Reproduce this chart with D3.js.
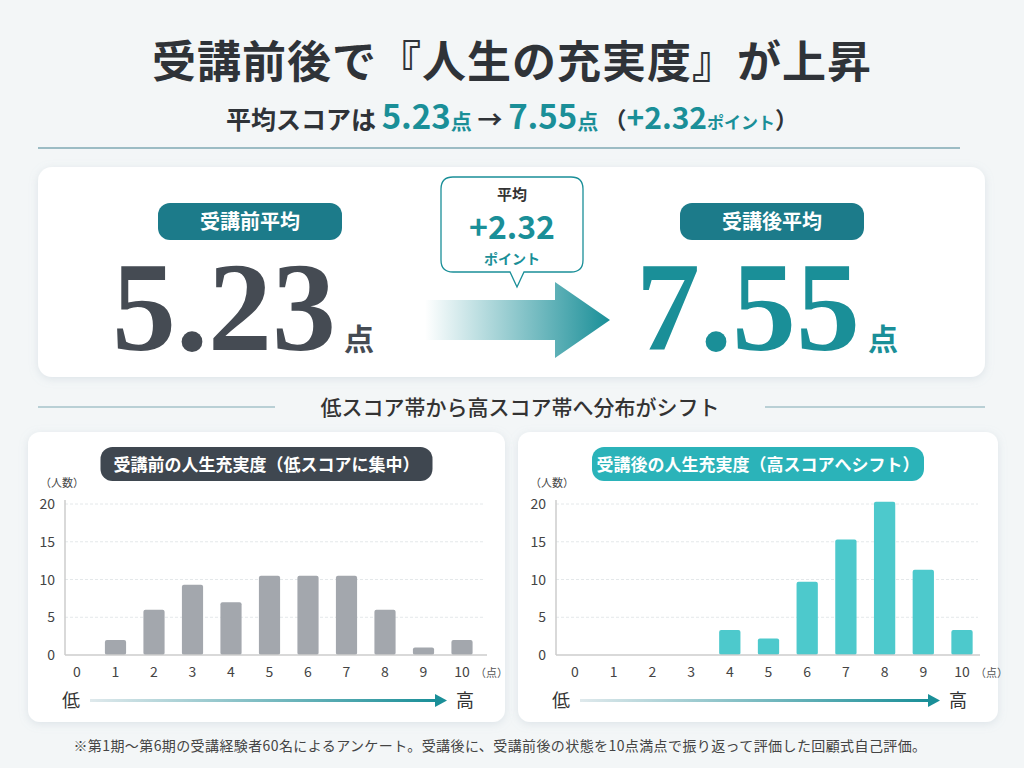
<!DOCTYPE html>
<html><head><meta charset="utf-8">
<script src="https://cdn.jsdelivr.net/npm/d3@7"></script>
<style>
body{margin:0;background:#f3f6f7;}
svg{display:block;font-family:"Noto Sans CJK JP","Noto Sans",sans-serif;}
</style></head>
<body><svg id="c" width="1024" height="768"></svg>
<script>
var scores = ["0","1","2","3","4","5","6","7","8","9","10"];
var beforeCounts = [0, 2, 6, 9.3, 7, 10.5, 10.5, 10.5, 6, 1, 2];
var afterCounts = [0, 0, 0, 0, 3.3, 2.2, 9.7, 15.3, 20.3, 11.3, 3.3];
var yTicks = [0, 5, 10, 15, 20];
var beforeAvg = "5.23", afterAvg = "7.55", diff = "+2.32";

var svg = d3.select("#c");
var teal = "#1a8f98", dark = "#454b53";
var defs = svg.append("defs");
var f = defs.append("filter").attr("id", "sh").attr("x", "-5%").attr("y", "-5%").attr("width", "110%").attr("height", "115%");
f.append("feDropShadow").attr("dx", 0).attr("dy", 2).attr("stdDeviation", 4).attr("flood-color", "#9ab").attr("flood-opacity", 0.25);
var g1 = defs.append("linearGradient").attr("id", "ag");
g1.append("stop").attr("offset", "0%").attr("stop-color", "#1a8f98").attr("stop-opacity", 0);
g1.append("stop").attr("offset", "100%").attr("stop-color", "#1a8f98");
var g2 = defs.append("linearGradient").attr("id", "lg");
g2.append("stop").attr("offset", "0%").attr("stop-color", "#dfe9ec");
g2.append("stop").attr("offset", "100%").attr("stop-color", "#1a8f98");

// title
svg.append("text").attr("x", 512).attr("y", 78).attr("text-anchor", "middle")
  .attr("font-size", 44).attr("font-weight", 700).attr("letter-spacing", 1).attr("fill", "#2f3338").text("受講前後で『人生の充実度』が上昇");
var sub = svg.append("text").attr("x", 512).attr("y", 129).attr("text-anchor", "middle")
  .attr("font-size", 25).attr("font-weight", 700).attr("fill", "#2f3338");
sub.append("tspan").text("平均スコアは  ");
sub.append("tspan").attr("fill", teal).attr("font-size", 33).text(beforeAvg);
sub.append("tspan").attr("fill", teal).attr("font-size", 21).text("点");
sub.append("tspan").text("  →  ");
sub.append("tspan").attr("fill", teal).attr("font-size", 33).text(afterAvg);
sub.append("tspan").attr("fill", teal).attr("font-size", 21).text("点");
sub.append("tspan").attr("font-size", 23).text(" （");
sub.append("tspan").attr("fill", teal).attr("font-size", 30).text(diff);
sub.append("tspan").attr("fill", teal).attr("font-size", 17).text("ポイント");
sub.append("tspan").attr("font-size", 23).text("）");
svg.append("line").attr("x1", 38).attr("x2", 960).attr("y1", 148).attr("y2", 148).attr("stroke", "#7fa9b3").attr("stroke-width", 1.5);

// summary card
svg.append("rect").attr("x", 38).attr("y", 167).attr("width", 947).attr("height", 210).attr("rx", 14)
  .attr("fill", "#fff").attr("filter", "url(#sh)");
function pill(cx, label) {
  svg.append("rect").attr("x", cx - 92).attr("y", 203).attr("width", 184).attr("height", 37).attr("rx", 12).attr("fill", "#1c7b8a");
  svg.append("text").attr("x", cx).attr("y", 229).attr("text-anchor", "middle").attr("font-size", 20)
    .attr("font-weight", 700).attr("fill", "#fff").text(label);
}
pill(250, "受講前平均");
pill(772, "受講後平均");
function bigNum(x, val, col) {
  var t = svg.append("text").attr("x", x).attr("y", 350).attr("fill", col);
  t.append("tspan").attr("font-family", "'Liberation Serif',serif").attr("font-weight", 700)
    .attr("font-size", 128).attr("letter-spacing", 0).text(val);
  t.append("tspan").attr("dx", 8).attr("font-size", 30).attr("font-weight", 700).text("点");
}
bigNum(112, beforeAvg, dark);
bigNum(636, afterAvg, teal);

// arrow
svg.append("path").attr("d", "M425,300 L555,300 L555,282 L610,320 L555,358 L555,340 L425,340 Z").attr("fill", "url(#ag)");
// callout
svg.append("path").attr("d", "M453,177 L571,177 Q583,177 583,189 L583,260 Q583,272 571,272 L524,272 L517,287 L510,272 L453,272 Q441,272 441,260 L441,189 Q441,177 453,177 Z")
  .attr("fill", "#fff").attr("stroke", teal).attr("stroke-width", 1.3);
svg.append("text").attr("x", 512).attr("y", 200).attr("text-anchor", "middle").attr("font-size", 15).attr("font-weight", 700).attr("fill", "#333").text("平均");
svg.append("text").attr("x", 512).attr("y", 239).attr("text-anchor", "middle").attr("font-size", 32).attr("font-weight", 700).attr("fill", teal).text(diff);
svg.append("text").attr("x", 512).attr("y", 264).attr("text-anchor", "middle").attr("font-size", 14).attr("font-weight", 700).attr("fill", teal).text("ポイント");

// section label
svg.append("text").attr("x", 520).attr("y", 415).attr("text-anchor", "middle").attr("font-size", 21).attr("font-weight", 500).attr("fill", "#333").text("低スコア帯から高スコア帯へ分布がシフト");
svg.append("line").attr("x1", 38).attr("x2", 275).attr("y1", 407).attr("y2", 407).attr("stroke", "#7fa9b3");
svg.append("line").attr("x1", 765).attr("x2", 985).attr("y1", 407).attr("y2", 407).attr("stroke", "#7fa9b3");

function panel(px, w, title, pillCol, data, barCol, x0, x10, axisX) {
  svg.append("rect").attr("x", px).attr("y", 432).attr("width", w).attr("height", 290).attr("rx", 12)
    .attr("fill", "#fff").attr("filter", "url(#sh)");
  var cx = px + w / 2;
  svg.append("rect").attr("x", cx - 166).attr("y", 447).attr("width", 332).attr("height", 34).attr("rx", 12).attr("fill", pillCol);
  svg.append("text").attr("x", cx).attr("y", 471).attr("text-anchor", "middle").attr("font-size", 17)
    .attr("font-weight", 700).attr("fill", "#fff").text(title);
  svg.append("text").attr("x", px + 12).attr("y", 487).attr("font-size", 11).attr("fill", "#444").text("（人数）");
  var step = (x10 - x0) / 10;
  var x = d3.scaleBand().domain(scores).range([x0 - step / 2, x10 + step / 2]);
  var bw = step * 0.55;
  var y = d3.scaleLinear().domain([0, 20]).range([655, 504]);
  var g = svg.append("g");
  g.selectAll(".gl").data(yTicks.slice(1)).enter().append("line")
    .attr("x1", axisX).attr("x2", px + w - 20).attr("y1", y).attr("y2", y)
    .attr("stroke", "#e4e8ea").attr("stroke-dasharray", "3,2");
  g.selectAll(".yt").data(yTicks).enter().append("text")
    .attr("x", axisX - 10).attr("y", function(d) { return y(d) + 5; }).attr("text-anchor", "end")
    .attr("font-size", 14).attr("fill", "#444").text(function(d) { return d; });
  g.selectAll(".bar").data(data).enter().append("rect")
    .attr("x", function(d, i) { return x(scores[i]) + x.bandwidth() / 2 - bw / 2; }).attr("width", bw)
    .attr("y", function(d) { return y(d); }).attr("height", function(d) { return 655 - y(d); })
    .attr("rx", 2).attr("fill", barCol);
  g.append("line").attr("x1", axisX).attr("x2", axisX).attr("y1", 500).attr("y2", 655).attr("stroke", "#ccc").attr("stroke-width", 1.5);
  g.append("line").attr("x1", axisX).attr("x2", px + w - 18).attr("y1", 655).attr("y2", 655).attr("stroke", "#ccc").attr("stroke-width", 1.5);
  g.selectAll(".xt").data(scores).enter().append("text")
    .attr("x", function(d) { return x(d) + x.bandwidth() / 2; }).attr("y", 677).attr("text-anchor", "middle")
    .attr("font-size", 14).attr("fill", "#444").text(function(d) { return d; });
  svg.append("text").attr("x", x10 + 13).attr("y", 677).attr("font-size", 11).attr("fill", "#555").text("（点）");
  svg.append("text").attr("x", px + 43).attr("y", 707).attr("text-anchor", "middle").attr("font-size", 18).attr("fill", "#333").text("低");
  svg.append("text").attr("x", px + w - 40).attr("y", 707).attr("text-anchor", "middle").attr("font-size", 18).attr("fill", "#333").text("高");
  svg.append("rect").attr("x", px + 62).attr("y", 699).attr("width", w - 132).attr("height", 3).attr("fill", "url(#lg)");
  svg.append("path").attr("d", "M" + (px + w - 70) + ",694 L" + (px + w - 58) + ",700.5 L" + (px + w - 70) + ",707 Z").attr("fill", teal);
}
panel(28, 477, "受講前の人生充実度（低スコアに集中）", "#3f4750", beforeCounts, "#a3a7ad", 77, 462, 65);
panel(518, 480, "受講後の人生充実度（高スコアへシフト）", "#2bb3b9", afterCounts, "#4dc9cc", 575, 962, 556);

svg.append("text").attr("x", 500).attr("y", 751).attr("text-anchor", "middle").attr("font-size", 14).attr("letter-spacing", 0.4).attr("fill", "#444")
  .text("※第1期〜第6期の受講経験者60名によるアンケート。受講後に、受講前後の状態を10点満点で振り返って評価した回顧式自己評価。");
</script></body></html>
